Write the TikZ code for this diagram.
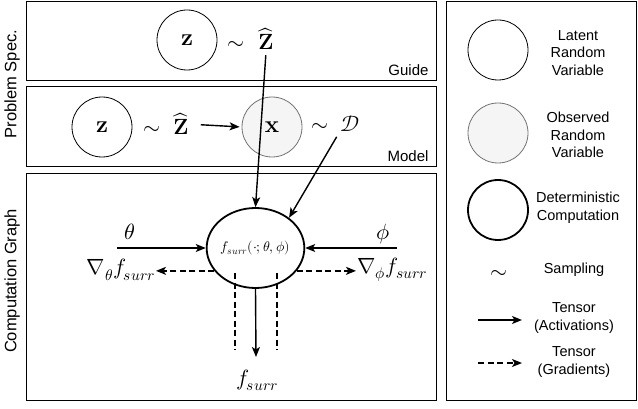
\documentclass[tikz,border=0pt]{standalone}
\usepackage{fontspec}
\usepackage{unicode-math}
\setmathfont{Latin Modern Math}
\setsansfont{Liberation Sans}
\usetikzlibrary{arrows.meta,positioning,shapes.geometric}

\newcommand{\lblfont}{\sffamily\fontsize{15}{18}\selectfont}
\newcommand{\sidefont}{\sffamily\fontsize{16.5}{20}\selectfont}
\newcommand{\legfont}{\sffamily\fontsize{14.5}{17.5}\selectfont}
\newcommand{\mathfont}{\fontsize{22}{26}\selectfont}
\newcommand{\varfont}{\fontsize{24}{28}\selectfont}

\tikzset{
	rv/.style={circle, draw, line width=0.8pt, minimum size=60pt, inner sep=0pt, font=\varfont},
	obs/.style={rv, draw=black!55, fill=black!4},
	det/.style={ellipse, draw, line width=1.8pt, fill=white, inner sep=0pt},
	act/.style={-{Stealth[length=10pt,width=8pt,inset=2.5pt]}, line width=1.4pt},
	grad/.style={act, dash pattern=on 6pt off 3.5pt},
	gradline/.style={line width=1.4pt, dash pattern=on 6pt off 3.5pt},
	sym/.style={font=\mathfont, anchor=base, inner sep=2pt},
}

\begin{document}
\begin{tikzpicture}[x=1pt,y=-1pt]
		\useasboundingbox (0,0) rectangle (638,409);

		% boxes
		\draw[line width=0.8pt] (26,1) rectangle (436,80);
		\draw[line width=0.8pt] (26,86) rectangle (436,166);
		\draw[line width=0.8pt] (26,173) rectangle (436,400);
		\draw[line width=0.8pt] (446,1) rectangle (636,400);

		\node[rotate=90, font=\sidefont] (probspec) at (12,84) {Problem Spec.};
		\node[rotate=90, font=\sidefont] (compgraph) at (12,281) {Computation Graph};
		\node[anchor=base east, font=\lblfont] (guidelbl) at (432,76) {Guide};
		\node[anchor=base east, font=\lblfont] (modellbl) at (432,162) {Model};

		% guide
		\node[rv] (gZ) at (187,40) {$\mathbf{z}$};
		\node[sym] (gsim) at (236,50) {$\sim$};
		\node[sym] (gZhat) at (266,50) {$\widehat{\mathbf{Z}}$};

		% model
		\node[rv] (mZ) at (102,127) {$\mathbf{z}$};
		\node[sym] (msim) at (152,135) {$\sim$};
		\node[sym] (mZhat) at (181,135) {$\widehat{\mathbf{Z}}$};
		\node[obs] (mX) at (272,127) {$\mathbf{x}$};
		\node[sym] (xsim) at (320,132) {$\sim$};
		\node[sym] (mD) at (350,132) {$\mathcal{D}$};

		% computation graph
		\node[det, minimum width=89pt, minimum height=80pt] (fsurr) at (255.5,248)
			{\fontsize{14}{17}\selectfont$f_{surr}(\cdot; \theta, \phi)$};
		\node[sym] (theta) at (130,240) {$\theta$};
		\node[sym] (phi) at (383,240) {$\phi$};
		\coordinate (thetain) at (117,248);
		\coordinate (phiin) at (397,248);
		\node[font=\mathfont, anchor=east, inner sep=1pt] (gradtheta) at (156,270) {$\nabla_\theta f_{surr}$};
		\node[font=\mathfont, anchor=west, inner sep=1pt] (gradphi) at (356,270) {$\nabla_\phi f_{surr}$};
		\node[sym] (fout) at (257,385) {$f_{surr}$};

		\draw[gradline] (235,273) -- (235,350);
		\draw[gradline] (277,273) -- (277,350);

		\begin{scope}[every edge/.style={draw, act}]
			\path (gZhat.south) edge[shorten <=3pt] (fsurr.north);
			\path (mD.south west) edge[shorten <=3pt] (fsurr.42);
			\path (mZhat.east) edge[shorten <=10pt, shorten >=2pt] (mX.west);
			\path (thetain) edge (fsurr.west);
			\path (phiin) edge (fsurr.east);
			\path (fsurr.south) edge (256,357);
			\path (fsurr.209) edge[grad] (fsurr.209 -| gradtheta.east);
			\path (fsurr.-29) edge[grad] (fsurr.-29 -| gradphi.west);
		\end{scope}

		% legend
		\node[rv] (latent) at (498,50) {};
		\node[obs] (observed) at (498,133) {};
		\node[rv, line width=1.8pt] (determ) at (498,210) {};
		\node[sym] (legsim) at (499,278) {$\sim$};
		\node[font=\legfont, align=center] (latentlbl) at (578,53) {Latent\\Random\\Variable};
		\node[font=\legfont, align=center] (observedlbl) at (578,135) {Observed\\Random\\Variable};
		\node[font=\legfont, align=center] (determlbl) at (578,208) {Deterministic\\Computation};
		\node[font=\legfont] (samplinglbl) at (574,270) {Sampling};
		\node[font=\legfont, align=center] (actlbl) at (574,318) {Tensor\\(Activations)};
		\node[font=\legfont, align=center] (gradlbl) at (574,362) {Tensor\\(Gradients)};
		\coordinate (actA) at (478,320);
		\coordinate (actB) at (522,320);
		\coordinate (gradA) at (478,363);
		\coordinate (gradB) at (522,363);
		\draw[act] (actA) -- (actB);
		\draw[grad] (gradA) -- (gradB);
	\end{tikzpicture}
\end{document}
